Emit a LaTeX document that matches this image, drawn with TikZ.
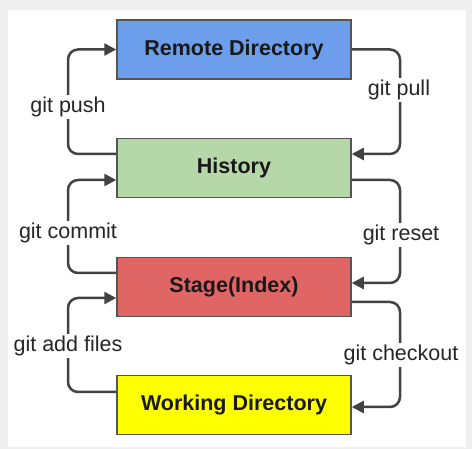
\documentclass[tikz,border=0pt]{standalone}
\usepackage{fontspec}
\setmainfont{Liberation Sans}
\usetikzlibrary{arrows.meta}
\definecolor{bgray}{HTML}{EFEFEF}
\definecolor{cblue}{HTML}{6D9EEB}
\definecolor{cgreen}{HTML}{B6D7A8}
\definecolor{cred}{HTML}{E06666}
\definecolor{cyellow}{HTML}{FFFF00}
\definecolor{cborder}{HTML}{555555}
\definecolor{cline}{HTML}{424242}
\tikzset{
  box/.style={draw=cborder, line width=1.5pt, minimum width=234pt, minimum height=59pt,
    inner sep=0pt, font=\fontsize{21.5}{24}\selectfont\bfseries, text=black!90},
  conn/.style={draw=cline, line width=2.5pt, rounded corners=10pt,
    -{Triangle[length=12pt,width=12pt]}},
  lbl/.style={fill=white, inner sep=1.5pt, font=\fontsize{21.5}{24}\selectfont, text=black!85}
}
\begin{document}
\begin{tikzpicture}[x=1pt,y=-1pt]
\useasboundingbox (0,0) rectangle (472,449);
\fill[bgray] (0,0) rectangle (472,449);
\fill[white] (8,10) rectangle (466,447);
\node[box, fill=cblue] (remote) at (234,49.5) {Remote Directory};
\node[box, fill=cgreen] (hist) at (234,168) {History};
\node[box, fill=cred] (stage) at (234,287) {Stage(Index)};
\node[box, fill=cyellow] (work) at (234,405) {Working Directory};
\coordinate (L) at (68,0);
\coordinate (R) at (400,0);
% anchor points on the boxes
\coordinate (histWout) at ([yshift=14pt]hist.west);
\coordinate (histWin) at ([yshift=-12pt]hist.west);
\coordinate (stageWout) at ([yshift=14pt]stage.west);
\coordinate (stageWin) at ([yshift=-11pt]stage.west);
\coordinate (workWout) at ([yshift=13pt]work.west);
\coordinate (histEin) at ([yshift=14pt]hist.east);
\coordinate (histEout) at ([yshift=-12pt]hist.east);
\coordinate (stageEin) at ([yshift=4pt]stage.east);
\coordinate (stageEout) at ([yshift=-15pt]stage.east);
\coordinate (workEin) at ([yshift=-2pt]work.east);
% left side
\draw[conn] (histWout) -| (L |- remote.west) -- (remote.west);
\draw[conn] (stageWout) -| (L |- histWin) -- (histWin);
\draw[conn] (workWout) -| (L |- stageWin) -- (stageWin);
% right side
\draw[conn] (remote.east) -| (R |- histEin) -- (histEin);
\draw[conn] (histEout) -| (R |- stageEin) -- (stageEin);
\draw[conn] (stageEout) -| (R |- workEin) -- (workEin);
% labels
\node[lbl] (lpush) at (68,107) {git push};
\node[lbl] (lpull) at (399,90) {git pull};
\node[lbl] (lcommit) at (68,233) {git commit};
\node[lbl] (lreset) at (401,235) {git reset};
\node[lbl] (ladd) at (68,346) {git add files};
\node[lbl] (lcheckout) at (401,355) {git checkout};
\end{tikzpicture}
\end{document}
